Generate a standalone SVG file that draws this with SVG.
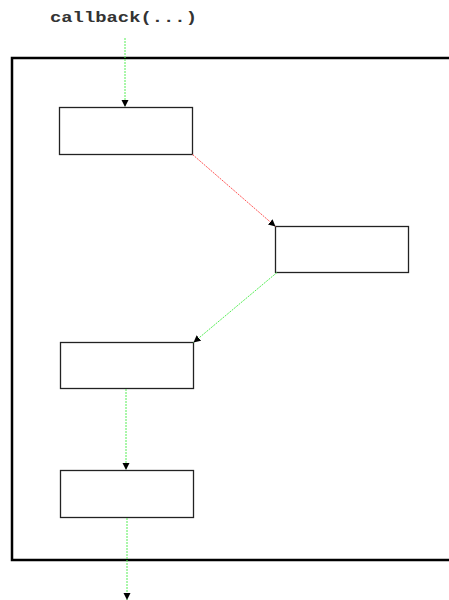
<svg xmlns="http://www.w3.org/2000/svg" width="449" height="600" viewBox="0 0 449 600">
<style>
.node{fill:#fff;stroke:#222;stroke-width:1.3}
.frame{fill:none;stroke:#000;stroke-width:2.5}
.g{stroke:#55ee55;stroke-width:1;stroke-dasharray:2 1;fill:none}
.r{stroke:#ff5555;stroke-width:1;stroke-dasharray:2 1;fill:none}
.lbl{font-family:"Liberation Mono","Courier New",monospace;font-size:15px;font-weight:bold;fill:#333}
</style>
<defs>
<marker id="ah" markerWidth="8" markerHeight="8" refX="7" refY="3.5" orient="auto" markerUnits="userSpaceOnUse">
<path d="M0,0 L7,3.5 L0,7 z" fill="#000"/>
</marker>
</defs>
<rect width="449" height="600" fill="#fff"/>
<path class="frame" d="M460,58 L12,58 L12,560 L460,560"/>
<text class="lbl" x="50" y="22" textLength="147" lengthAdjust="spacingAndGlyphs">callback(...)</text>
<g id="n1"><rect class="node" x="59.5" y="107.5" width="133" height="47"/></g>
<g id="n2"><rect class="node" x="275.5" y="226.5" width="133" height="46"/></g>
<g id="n3"><rect class="node" x="60.5" y="342.5" width="133" height="46"/></g>
<g id="n4"><rect class="node" x="60.5" y="470.5" width="133" height="47"/></g>
<g id="connectors">
<line class="g" x1="125" y1="38" x2="125" y2="107" marker-end="url(#ah)"/>
<line class="r" x1="192.5" y1="154.5" x2="275.5" y2="226.5" marker-end="url(#ah)"/>
<line class="g" x1="277" y1="272.5" x2="193.5" y2="342.5" marker-end="url(#ah)"/>
<line class="g" x1="126" y1="389" x2="126" y2="470" marker-end="url(#ah)"/>
<line class="g" x1="127" y1="518" x2="127" y2="600" marker-end="url(#ah)"/>
</g>
</svg>
